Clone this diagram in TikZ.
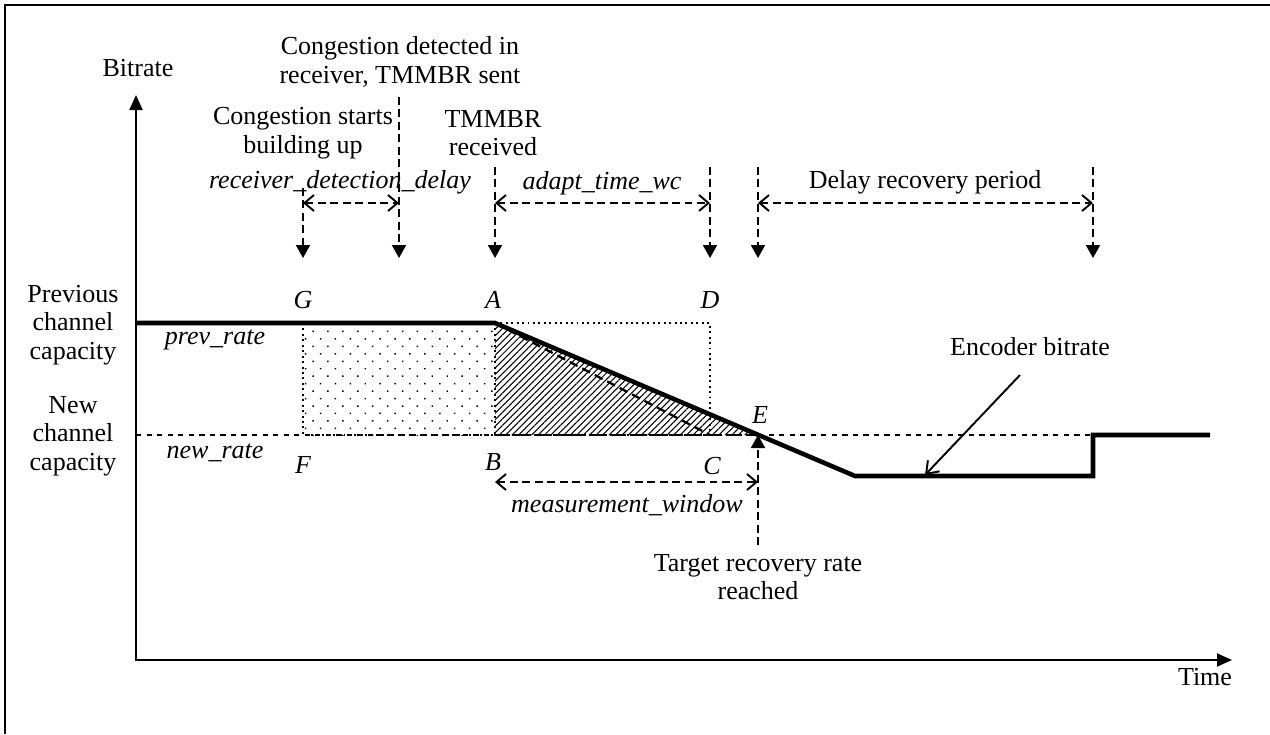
\documentclass[tikz,border=0pt]{standalone}
\usepackage{fontspec}
\setmainfont{Liberation Serif}
\usetikzlibrary{arrows.meta,patterns.meta}

\begin{document}
\begin{tikzpicture}[x=0.02cm, y=-0.02cm, font=\fontsize{14.8}{16.2}\selectfont,
  axis/.style={line width=1.1pt},
  encoder/.style={line width=2.6pt, line join=miter},
  timemark/.style={line width=1.1pt, dash pattern=on 4.5pt off 2.6pt, -{Triangle[length=2.6mm,width=2.8mm]}},
  gap/.style={line width=1.1pt, dash pattern=on 4.5pt off 2.6pt, {Straight Barb[length=1.9mm,width=3.2mm]}-{Straight Barb[length=1.9mm,width=3.2mm]}},
  txt/.style={align=center, inner sep=0pt},
  var/.style={inner sep=0pt, font=\fontsize{14.8}{16.2}\selectfont\itshape}]
  \useasboundingbox (0,0) rectangle (1270,734);
  % outer frame (cut off at right and bottom)
  \coordinate (fr1) at (1270,5);
  \coordinate (fr2) at (5,5);
  \coordinate (fr3) at (5,734);
  \draw[line width=1.3pt] (fr1) -- (fr2) -- (fr3);
  % axes
  \coordinate (O) at (136,660);
  \coordinate (ytip) at (136,95);
  \coordinate (xtip) at (1232,660);
  \draw[axis, {Triangle[length=3mm,width=2.6mm]}-{Triangle[length=3mm,width=2.6mm]}] (ytip) -- (O) -- (xtip);
  \node[txt] (bitrate) at (138,68) {Bitrate};
  \node[txt] (time) at (1205,677) {Time};
  \node[txt] (prevcap) at (73,325) {Previous\\channel\\capacity};
  \node[txt] (newcap) at (73,436) {New\\channel\\capacity};
  \node[var] (prevrate) at (215,340) {prev\_rate};
  \node[var] (newrate) at (215,453) {new\_rate};
  % corner points
  \coordinate (G) at (303,323);
  \coordinate (A) at (495,323);
  \coordinate (D) at (710,323);
  \coordinate (F) at (303,435);
  \coordinate (B) at (495,435);
  \coordinate (C) at (710,435);
  \coordinate (E) at (758,435);
  \node[var] (Glbl) at (303,300) {G};
  \node[var] (Albl) at (493,300) {A};
  \node[var] (Dlbl) at (710,300) {D};
  \node[var] (Flbl) at (303,465) {F};
  \node[var] (Blbl) at (493,462) {B};
  \node[var] (Clbl) at (712,466) {C};
  \node[var] (Elbl) at (760,415) {E};
  % shaded areas
  \fill[pattern={Dots[distance=6pt,radius=0.6pt,angle=45]}] (G) rectangle (B);
  \fill[pattern={Lines[angle=45,distance=2.6pt,line width=0.6pt]}] (A) -- (E) -- (B) -- cycle;
  \draw[dotted, line width=1.1pt] (G) rectangle (C);
  \draw[dotted, line width=1.1pt] (A) -- (B);
  % new rate level
  \coordinate (nl) at (136,435);
  \coordinate (nr) at (1210,435);
  \draw[dashed, line width=0.6pt] (nl) -- (nr);
  \draw[line width=1.4pt, dash pattern=on 8pt off 3pt] (B) -- (E);
  \draw[line width=1.3pt, dash pattern=on 5pt off 3pt] (A) -- (C);
  % encoder bitrate
  \coordinate (P0) at (136,323);
  \coordinate (low1) at (855,476);
  \coordinate (low2) at (1093,476);
  \coordinate (up) at (1093,435);
  \coordinate (P1) at (1210,435);
  \draw[encoder] (P0) -- (A) -- (low1) -- (low2) -- (up) -- (P1);
  \node[txt] (enclbl) at (1030,347) {Encoder bitrate};
  \coordinate (encfrom) at (1020,375);
  \coordinate (encto) at (925,475);
  \draw[line width=1.1pt, -{Straight Barb[length=2.2mm,width=3.2mm]}] (encfrom) -- (encto);
  % event markers
  \foreach \n/\x/\y in {G/303/188, T/399/97, A/495/167, D/710/167, E/758/167, R/1093/167} {
    \coordinate (top\n) at (\x,\y);
    \coordinate (bot\n) at (\x,258);
    \draw[timemark] (top\n) -- (bot\n);
  }
  \node[txt] (detected) at (400,62) {Congestion detected in\\receiver, TMMBR sent};
  \node[txt] (starts) at (303,133) {Congestion starts\\building up};
  \node[txt] (received) at (493,133) {TMMBR\\received};
  % intervals
  \coordinate (spany) at (0,203);
  \draw[gap] (topG |- spany) -- (topT |- spany);
  \draw[gap] (topA |- spany) -- (topD |- spany);
  \draw[gap] (topE |- spany) -- (topR |- spany);
  \node[var] (rdd) at (340,182) {receiver\_detection\_delay};
  \node[var] (atwc) at (602,183) {adapt\_time\_wc};
  \node[txt] (drp) at (925,182) {Delay recovery period};
  \coordinate (mwy) at (0,482);
  \draw[gap] (B |- mwy) -- (E |- mwy);
  \node[var] (mw) at (627,505) {measurement\_window};
  % target recovery rate
  \coordinate (tgt) at (758,545);
  \draw[timemark] (tgt) -- (E);
  \node[txt] (target) at (758,577) {Target recovery rate\\reached};
\end{tikzpicture}
\end{document}
